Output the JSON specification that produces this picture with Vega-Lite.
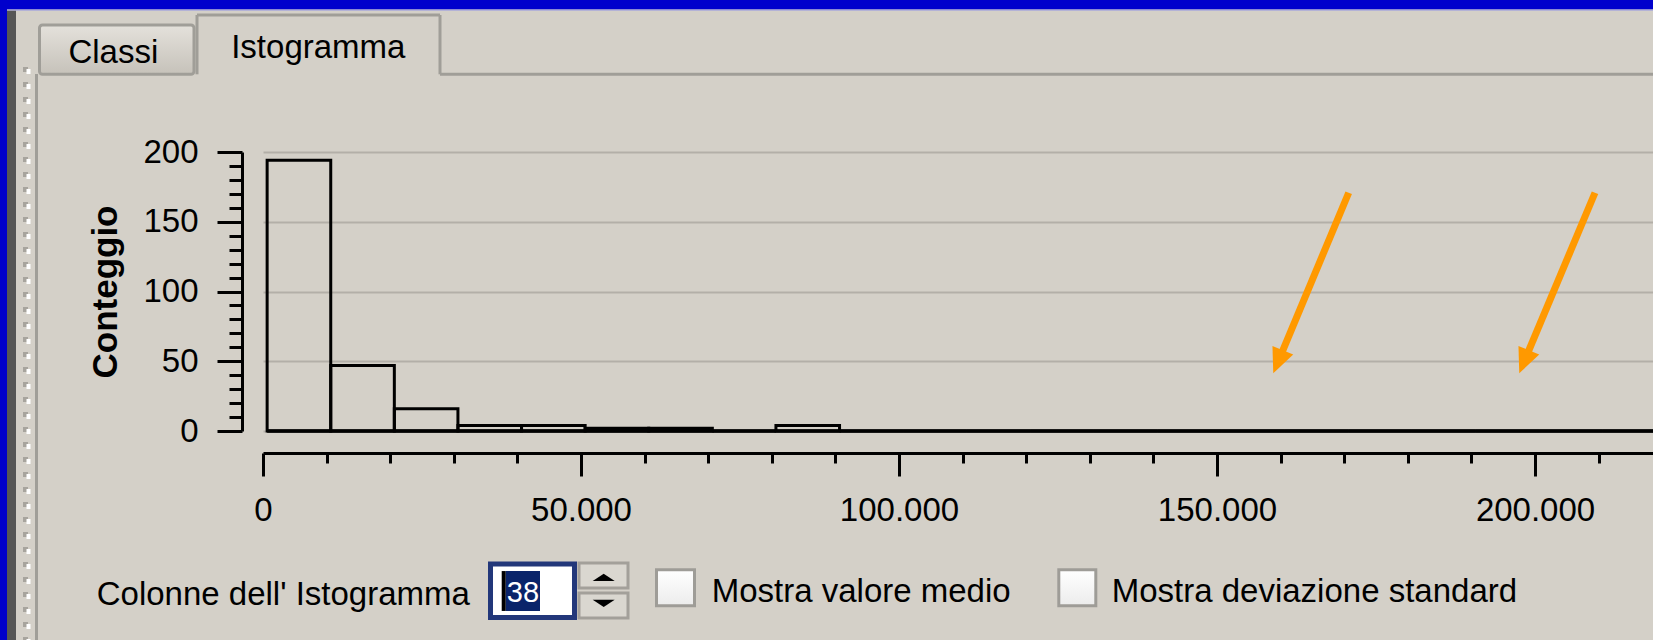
{
  "$schema": "https://vega.github.io/schema/vega-lite/v6.json",
  "width": 1390,
  "height": 279,
  "autosize": {"type": "none"},
  "padding": {"left": 263, "top": 152, "right": 0, "bottom": 209},
  "background": "#D4D0C8",
  "config": {
    "view": {"stroke": null},
    "font": "Liberation Sans",
    "axis": {"labelOverlap": false, "labelBound": false, "labelFlush": false}
  },
  "data": {"values": [
    {"bin_start": 650, "bin_end": 10650, "count": 194},
    {"bin_start": 10650, "bin_end": 20650, "count": 47},
    {"bin_start": 20650, "bin_end": 30650, "count": 16},
    {"bin_start": 30650, "bin_end": 40650, "count": 4},
    {"bin_start": 40650, "bin_end": 50650, "count": 4},
    {"bin_start": 50650, "bin_end": 60650, "count": 2},
    {"bin_start": 60650, "bin_end": 70650, "count": 2},
    {"bin_start": 70650, "bin_end": 80650, "count": 0},
    {"bin_start": 80650, "bin_end": 90650, "count": 4},
    {"bin_start": 90650, "bin_end": 100650, "count": 0},
    {"bin_start": 100650, "bin_end": 110650, "count": 0},
    {"bin_start": 110650, "bin_end": 120650, "count": 0},
    {"bin_start": 120650, "bin_end": 130650, "count": 0},
    {"bin_start": 130650, "bin_end": 140650, "count": 0},
    {"bin_start": 140650, "bin_end": 150650, "count": 0},
    {"bin_start": 150650, "bin_end": 160650, "count": 0},
    {"bin_start": 160650, "bin_end": 170650, "count": 0},
    {"bin_start": 170650, "bin_end": 180650, "count": 0},
    {"bin_start": 180650, "bin_end": 190650, "count": 0},
    {"bin_start": 190650, "bin_end": 200650, "count": 0},
    {"bin_start": 200650, "bin_end": 210650, "count": 0},
    {"bin_start": 210650, "bin_end": 220650, "count": 0}
  ]},
  "layer": [
    {
      "mark": {"type": "rect", "fill": "transparent", "stroke": "#000000", "strokeWidth": 3, "strokeJoin": "miter"},
      "encoding": {
        "x": {
          "field": "bin_start", "type": "quantitative",
          "scale": {"domain": [0, 218550], "nice": false, "zero": false},
          "axis": {
            "title": null,
            "orient": "bottom",
            "offset": 22,
            "values": [0, 10000, 20000, 30000, 40000, 50000, 60000, 70000, 80000, 90000, 100000, 110000, 120000, 130000, 140000, 150000, 160000, 170000, 180000, 190000, 200000, 210000],
            "tickCount": 40,
            "labelExpr": "datum.value % 50000 === 0 ? replace(format(datum.value, ','), ',', '.') : ''",
            "tickSize": {"condition": {"test": "datum.value % 50000 === 0", "value": 23}, "value": 10},
            "tickWidth": 3,
            "tickColor": "#000000",
            "domainColor": "#000000",
            "domainWidth": 3,
            "grid": false,
            "labelFont": "Liberation Sans",
            "labelFontSize": 33,
            "labelColor": "#000000",
            "labelPadding": 18,
            "labelFlush": false,
            "labelOverlap": false,
            "labelBound": false,
            "zindex": 0
          }
        },
        "x2": {"field": "bin_end"},
        "y": {
          "field": "count", "type": "quantitative",
          "scale": {"domain": [0, 200], "nice": false},
          "axis": {
            "title": "Conteggio",
            "orient": "left",
            "offset": 21,
            "values": [0, 10, 20, 30, 40, 50, 60, 70, 80, 90, 100, 110, 120, 130, 140, 150, 160, 170, 180, 190, 200],
            "tickCount": 30,
            "labelExpr": "datum.value % 50 === 0 ? datum.label : ''",
            "tickSize": {"condition": {"test": "datum.value % 50 === 0", "value": 25}, "value": 13},
            "tickWidth": 3,
            "tickColor": "#000000",
            "domainColor": "#000000",
            "domainWidth": 3,
            "grid": true,
            "gridColor": "#B3AFA8",
            "gridWidth": 2,
            "gridOpacity": {"condition": {"test": "datum.value % 50 === 0", "value": 1}, "value": 0},
            "labelFont": "Liberation Sans",
            "labelFontSize": 33,
            "labelColor": "#000000",
            "labelPadding": 19,
            "labelOverlap": false,
            "labelBound": false,
            "labelFlush": false,
            "titleFont": "Liberation Sans",
            "titleFontSize": 35,
            "titleFontWeight": "bold",
            "titleColor": "#000000",
            "titlePadding": 19,
            "zindex": 0
          }
        },
        "y2": {"datum": 0}
      }
    },
    {
      "data": {"values": [
        {"amount_from": -42000, "amount_to": 220000, "count_from": 302.2, "count_to": 312},
        {"amount_from": -42000, "amount_to": -40251, "count_from": -155, "count_to": 312}
      ]},
      "mark": {"type": "rect", "fill": "#0000CC"},
      "encoding": {
        "x": {"field": "amount_from", "type": "quantitative", "title": null},
        "x2": {"field": "amount_to"},
        "y": {"field": "count_from", "type": "quantitative", "title": "Conteggio"},
        "y2": {"field": "count_to"}
      }
    },
    {
      "data": {"values": [
        {"amount_from": -40251, "amount_to": 220000, "count_from": 301.3, "count_to": 302.2}
      ]},
      "mark": {"type": "rect", "fill": "#A9A9DC"},
      "encoding": {
        "x": {"field": "amount_from", "type": "quantitative", "title": null},
        "x2": {"field": "amount_to"},
        "y": {"field": "count_from", "type": "quantitative", "title": "Conteggio"},
        "y2": {"field": "count_to"}
      }
    },
    {
      "data": {"values": [
        {"amount_from": -40251, "amount_to": -38836, "count_from": -155, "count_to": 301.3}
      ]},
      "mark": {"type": "rect", "fill": "#565656"},
      "encoding": {
        "x": {"field": "amount_from", "type": "quantitative", "title": null},
        "x2": {"field": "amount_to"},
        "y": {"field": "count_from", "type": "quantitative", "title": "Conteggio"},
        "y2": {"field": "count_to"}
      }
    },
    {
      "data": {"values": [
        {"amount": -37342, "count_from": 260.9, "count_to": -155}
      ]},
      "mark": {"type": "rule", "stroke": "#A7A49D", "strokeWidth": 5, "strokeDash": [5, 10]},
      "encoding": {
        "x": {"field": "amount", "type": "quantitative", "title": null},
        "y": {"field": "count_from", "type": "quantitative", "title": "Conteggio"},
        "y2": {"field": "count_to"}
      }
    },
    {
      "data": {"values": [
        {"amount": -36870, "count_from": 260.9, "count_to": -155}
      ]},
      "mark": {"type": "rule", "stroke": "#FFFFFF", "strokeWidth": 4, "strokeDash": [5, 10], "strokeDashOffset": -2},
      "encoding": {
        "x": {"field": "amount", "type": "quantitative", "title": null},
        "y": {"field": "count_from", "type": "quantitative", "title": "Conteggio"},
        "y2": {"field": "count_to"}
      }
    },
    {
      "data": {"values": [
        {"amount_from": -35613, "amount_to": -35613, "count_from": 255.9, "count_to": -155},
        {"amount_from": -10377, "amount_to": -10377, "count_from": 298.2, "count_to": 255.7},
        {"amount_from": 27830, "amount_to": 27830, "count_from": 298.2, "count_to": 255.7},
        {"amount_from": -10377, "amount_to": 27830, "count_from": 298.2, "count_to": 298.2},
        {"amount_from": 27830, "amount_to": 220000, "count_from": 255.7, "count_to": 255.7}
      ]},
      "mark": {"type": "rule", "stroke": "#A09E98", "strokeWidth": 3},
      "encoding": {
        "x": {"field": "amount_from", "type": "quantitative", "title": null},
        "x2": {"field": "amount_to"},
        "y": {"field": "count_from", "type": "quantitative", "title": "Conteggio"},
        "y2": {"field": "count_to"}
      }
    },
    {
      "data": {"values": [
        {"amount_from": -35141, "amount_to": -10849, "count_from": 255.7, "count_to": 291.0}
      ]},
      "mark": {"type": "rect", "stroke": "#A09E98", "strokeWidth": 3, "cornerRadius": 3,
        "fill": {"gradient": "linear", "x1": 0, "y1": 0, "x2": 0, "y2": 1,
          "stops": [{"offset": 0, "color": "#E4E1DB"}, {"offset": 1, "color": "#C6C2BA"}]}},
      "encoding": {
        "x": {"field": "amount_from", "type": "quantitative", "title": null},
        "x2": {"field": "amount_to"},
        "y": {"field": "count_from", "type": "quantitative", "title": "Conteggio"},
        "y2": {"field": "count_to"}
      }
    },
    {
      "data": {"values": [
        {"label": "Classi", "amount": -23537, "count": 263.6},
        {"label": "Istogramma", "amount": 8695, "count": 267.2}
      ]},
      "mark": {"type": "text", "align": "center", "baseline": "alphabetic", "fontSize": 33, "font": "Liberation Sans", "color": "#000000"},
      "encoding": {
        "x": {"field": "amount", "type": "quantitative", "title": null},
        "y": {"field": "count", "type": "quantitative", "title": "Conteggio"},
        "text": {"field": "label"}
      }
    },
    {
      "data": {"values": [
        {"label": "Colonne dell' Istogramma", "amount": -26147, "count": -125.0},
        {"label": "Mostra valore medio", "amount": 70549, "count": -122.4},
        {"label": "Mostra deviazione standard", "amount": 133441, "count": -122.4}
      ]},
      "mark": {"type": "text", "align": "left", "baseline": "alphabetic", "fontSize": 33, "font": "Liberation Sans", "color": "#000000"},
      "encoding": {
        "x": {"field": "amount", "type": "quantitative", "title": null},
        "y": {"field": "count", "type": "quantitative", "title": "Conteggio"},
        "text": {"field": "label"}
      }
    },
    {
      "data": {"values": [
        {"amount_from": 35770, "amount_to": 48977, "count_from": -133.7, "count_to": -95.3}
      ]},
      "mark": {"type": "rect", "fill": "#FFFFFF", "stroke": "#22377A", "strokeWidth": 5},
      "encoding": {
        "x": {"field": "amount_from", "type": "quantitative", "title": null},
        "x2": {"field": "amount_to"},
        "y": {"field": "count_from", "type": "quantitative", "title": "Conteggio"},
        "y2": {"field": "count_to"}
      }
    },
    {
      "data": {"values": [
        {"amount_from": 38160, "amount_to": 43553, "count_from": -129.0, "count_to": -100.4}
      ]},
      "mark": {"type": "rect", "fill": "#0A246A"},
      "encoding": {
        "x": {"field": "amount_from", "type": "quantitative", "title": null},
        "x2": {"field": "amount_to"},
        "y": {"field": "count_from", "type": "quantitative", "title": "Conteggio"},
        "y2": {"field": "count_to"}
      }
    },
    {
      "data": {"values": [
        {"amount_from": 37531, "amount_to": 38160, "count_from": -129.0, "count_to": -100.4}
      ]},
      "mark": {"type": "rect", "fill": "#000000"},
      "encoding": {
        "x": {"field": "amount_from", "type": "quantitative", "title": null},
        "x2": {"field": "amount_to"},
        "y": {"field": "count_from", "type": "quantitative", "title": "Conteggio"},
        "y2": {"field": "count_to"}
      }
    },
    {
      "data": {"values": [
        {"label": "38", "amount": 40864, "count": -122.4}
      ]},
      "mark": {"type": "text", "align": "center", "baseline": "alphabetic", "fontSize": 29, "font": "Liberation Sans", "color": "#FFFFFF"},
      "encoding": {
        "x": {"field": "amount", "type": "quantitative", "title": null},
        "y": {"field": "count", "type": "quantitative", "title": "Conteggio"},
        "text": {"field": "label"}
      }
    },
    {
      "data": {"values": [
        {"amount_from": 49685, "amount_to": 57389, "count_from": -112.5, "count_to": -94.6},
        {"amount_from": 49685, "amount_to": 57389, "count_from": -134.1, "count_to": -116.1}
      ]},
      "mark": {"type": "rect", "fill": "#DAD7D0", "stroke": "#A3A09A", "strokeWidth": 3},
      "encoding": {
        "x": {"field": "amount_from", "type": "quantitative", "title": null},
        "x2": {"field": "amount_to"},
        "y": {"field": "count_from", "type": "quantitative", "title": "Conteggio"},
        "y2": {"field": "count_to"}
      }
    },
    {
      "data": {"values": [{"amount": 53568, "count": -104.9}]},
      "mark": {"type": "point", "shape": "M-1,0.33L1,0.33L0,-0.33Z", "size": 484, "filled": true, "fill": "#000000", "opacity": 1, "strokeWidth": 0},
      "encoding": {
        "x": {"field": "amount", "type": "quantitative", "title": null},
        "y": {"field": "count", "type": "quantitative", "title": "Conteggio"}
      }
    },
    {
      "data": {"values": [{"amount": 53568, "count": -123.5}]},
      "mark": {"type": "point", "shape": "M-1,-0.33L1,-0.33L0,0.33Z", "size": 484, "filled": true, "fill": "#000000", "opacity": 1, "strokeWidth": 0},
      "encoding": {
        "x": {"field": "amount", "type": "quantitative", "title": null},
        "y": {"field": "count", "type": "quantitative", "title": "Conteggio"}
      }
    },
    {
      "data": {"values": [
        {"amount_from": 61870, "amount_to": 67845, "count_from": -125.3, "count_to": -99.5},
        {"amount_from": 125124, "amount_to": 130941, "count_from": -125.3, "count_to": -99.5}
      ]},
      "mark": {"type": "rect", "stroke": "#9E9C97", "strokeWidth": 3,
        "fill": {"gradient": "linear", "x1": 0, "y1": 0, "x2": 0, "y2": 1,
          "stops": [{"offset": 0, "color": "#FFFFFF"}, {"offset": 1, "color": "#ECECEC"}]}},
      "encoding": {
        "x": {"field": "amount_from", "type": "quantitative", "title": null},
        "x2": {"field": "amount_to"},
        "y": {"field": "count_from", "type": "quantitative", "title": "Conteggio"},
        "y2": {"field": "count_to"}
      }
    },
    {
      "transform": [
        {"aggregate": [
          {"op": "min", "field": "bin_start", "as": "first_start"},
          {"op": "max", "field": "bin_end", "as": "last_end"},
          {"op": "min", "field": "count", "as": "lowest_count"}
        ]}
      ],
      "mark": {"type": "rule", "stroke": "#000000", "strokeWidth": 3.3},
      "encoding": {
        "x": {"field": "first_start", "type": "quantitative", "title": null},
        "x2": {"field": "last_end"},
        "y": {"field": "lowest_count", "type": "quantitative", "title": "Conteggio"}
      }
    },
    {
      "data": {"values": [
        {"from_amount": 170705, "from_count": 170.8, "to_amount": 159447, "to_count": 48.0},
        {"from_amount": 209430, "from_count": 170.8, "to_amount": 198126, "to_count": 48.0}
      ]},
      "layer": [
        {
          "mark": {"type": "rule", "stroke": "#FF9900", "strokeWidth": 7, "strokeCap": "butt"},
          "encoding": {
            "x": {"field": "from_amount", "type": "quantitative", "title": null},
            "y": {"field": "from_count", "type": "quantitative", "title": "Conteggio"},
            "x2": {"field": "to_amount"},
            "y2": {"field": "to_count"}
          }
        },
        {
          "mark": {"type": "point", "shape": "M0,0.4L-0.45,-0.6L0.45,-0.6Z", "size": 2500, "angle": 22.5, "filled": true, "fill": "#FF9900", "opacity": 1, "strokeWidth": 0},
          "encoding": {
            "x": {"field": "to_amount", "type": "quantitative", "title": null},
            "y": {"field": "to_count", "type": "quantitative", "title": "Conteggio"}
          }
        }
      ]
    }
  ]
}
